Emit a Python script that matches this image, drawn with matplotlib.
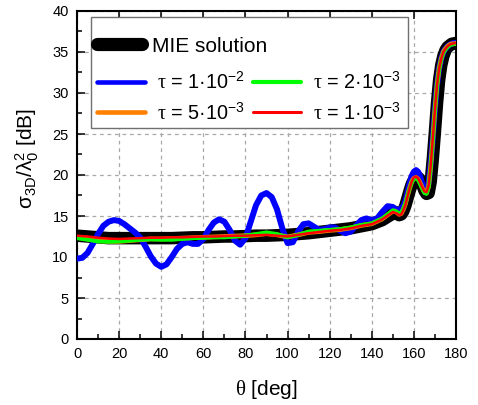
import numpy as np
import matplotlib
matplotlib.use("Agg")
import matplotlib.pyplot as plt
from matplotlib.lines import Line2D
from matplotlib.patches import Rectangle

plt.rcParams['font.family'] = ['Liberation Sans', 'DejaVu Sans']
plt.rcParams['mathtext.fontset'] = 'custom'
plt.rcParams['mathtext.rm'] = 'Liberation Serif'
plt.rcParams['mathtext.it'] = 'Liberation Sans:italic'
plt.rcParams['mathtext.default'] = 'regular'

# ---- data: bistatic RCS vs. observation angle -----------------------------
theta_blue = np.concatenate([np.arange(0, 155.1, 2.5), np.arange(156, 180.1, 1)])
rcs_tau_1e2 = [
    9.8, 9.9, 10.5, 11.6, 12.8, 13.8, 14.3, 14.5, 14.4, 14.0,
    13.5, 13.0, 12.4, 11.3, 10.1, 9.2, 8.8, 9.1, 10.0, 11.0,
    11.6, 11.8, 11.6, 11.6, 12.2, 13.3, 14.2, 14.6, 14.3, 13.3,
    12.0, 11.5, 12.3, 14.3, 16.3, 17.5, 17.8, 17.3, 15.8, 13.5,
    11.7, 11.8, 13.1, 14.0, 14.1, 13.7, 13.3, 13.4, 13.6, 13.6,
    13.2, 12.9, 13.1, 13.8, 14.5, 14.7, 14.5, 14.7, 15.5, 16.2,
    16.1, 15.6, 16.2,
    16.9, 17.9, 19.0, 19.9, 20.4, 20.6, 20.4, 19.8, 18.9, 18.2,
    18.1, 19.0, 21.5, 24.5, 28.0, 31.0, 33.0, 34.2, 35.0, 35.4,
    35.7, 35.9, 36.0, 36.1, 36.1,
]

theta = np.concatenate([np.arange(0, 150.1, 5), np.arange(151, 180.1, 1)])
rcs_mie = [
    12.6, 12.5, 12.4, 12.3, 12.3, 12.3, 12.3, 12.3, 12.3, 12.3,
    12.35, 12.4, 12.4, 12.45, 12.5, 12.5, 12.55, 12.6, 12.6, 12.65,
    12.7, 12.8, 12.9, 13.05, 13.2, 13.35, 13.5, 13.75, 14.0, 14.5,
    15.3,
    15.5, 15.3, 15.1, 15.2, 15.6, 16.3, 17.2, 18.1, 18.9, 19.4,
    19.6, 19.7, 19.4, 18.8, 18.1, 17.7, 17.8, 19.2, 22.0, 25.3,
    28.8, 31.6, 33.4, 34.5, 35.2, 35.6, 35.8, 36.0, 36.05, 36.1,
]
rcs_tau_5e3 = [
    12.4, 12.2, 12.0, 11.9, 11.9, 12.0, 12.1, 12.2, 12.2, 12.25,
    12.3, 12.35, 12.4, 12.45, 12.5, 12.55, 12.6, 12.7, 12.85, 12.7,
    12.45, 12.7, 13.0, 13.1, 13.25, 13.35, 13.55, 13.85, 14.05, 14.65,
    15.6,
    15.6, 15.4, 15.2, 15.3, 15.8, 16.5, 17.5, 18.4, 19.2, 19.6,
    19.7, 19.5, 19.0, 18.4, 17.9, 17.8, 18.6, 21.1, 24.4, 28.0,
    31.0, 33.0, 34.2, 35.0, 35.4, 35.7, 35.9, 36.0, 36.0, 36.05,
]
rcs_tau_2e3 = [
    12.3, 12.1, 11.9, 11.85, 11.9, 12.0, 12.1, 12.15, 12.1, 12.1,
    12.2, 12.3, 12.35, 12.4, 12.4, 12.5, 12.6, 12.8, 13.0, 12.8,
    12.4, 12.7, 13.1, 13.2, 13.3, 13.4, 13.6, 13.9, 14.1, 14.7,
    15.7,
    15.6, 15.5, 15.3, 15.4, 15.9, 16.6, 17.5, 18.4, 19.1, 19.5,
    19.6, 19.4, 18.9, 18.3, 17.8, 17.7, 18.5, 21.0, 24.3, 27.9,
    30.9, 32.9, 34.1, 34.9, 35.3, 35.6, 35.8, 35.9, 36.0, 36.0,
]
rcs_tau_1e3 = [
    12.6, 12.5, 12.35, 12.25, 12.2, 12.25, 12.3, 12.35, 12.35, 12.4,
    12.4, 12.45, 12.5, 12.5, 12.55, 12.6, 12.6, 12.65, 12.7, 12.6,
    12.5, 12.7, 12.9, 13.05, 13.2, 13.3, 13.5, 13.8, 14.0, 14.6,
    15.5,
    15.4, 15.3, 15.1, 15.2, 15.7, 16.4, 17.4, 18.4, 19.2, 19.7,
    19.8, 19.6, 19.1, 18.5, 18.0, 17.9, 18.7, 21.2, 24.5, 28.0,
    31.0, 33.0, 34.2, 35.0, 35.4, 35.7, 35.9, 36.0, 36.05, 36.1,
]

series_labels = ['MIE solution',
                 r'$\mathrm{\tau}$ = 1·$10^{-2}$',
                 r'$\mathrm{\tau}$ = 5·$10^{-3}$',
                 r'$\mathrm{\tau}$ = 2·$10^{-3}$',
                 r'$\mathrm{\tau}$ = 1·$10^{-3}$']
x_ticks = [0, 20, 40, 60, 80, 100, 120, 140, 160, 180]
y_ticks = [0, 5, 10, 15, 20, 25, 30, 35, 40]

# ---- figure ---------------------------------------------------------------
fig = plt.figure(figsize=(4.78, 4.05), dpi=100)
ax = fig.add_axes([77 / 478, 66 / 405, 379 / 478, 328 / 405])

colors = ['black', '#0000ff', '#ff8000', '#00ff00', '#ff0000']
plot_widths = [9.0, 4.3, 3.4, 2.8, 1.8]
legend_widths = [9.5, 3.3, 3.3, 3.0, 2.2]
xs = [theta, theta_blue, theta, theta, theta]
ys = [rcs_mie, rcs_tau_1e2, rcs_tau_5e3, rcs_tau_2e3, rcs_tau_1e3]
for x, y, c, w in zip(xs, ys, colors, plot_widths):
    ax.plot(x, y, color=c, lw=w, solid_capstyle='round', solid_joinstyle='round', zorder=3)

ax.set_xlim(0, 180)
ax.set_ylim(0, 40)
ax.set_xticks(x_ticks)
ax.set_yticks(y_ticks)
ax.set_xticks(np.arange(10, 180, 20), minor=True)
ax.set_yticks(np.arange(2.5, 40, 5), minor=True)

ax.grid(True, which='major', color='#a8a8a8', linestyle=(0, (3, 3)), linewidth=0.9, zorder=1)
ax.set_axisbelow(True)

ax.tick_params(axis='both', which='major', direction='in', length=5.5, width=1.1,
               labelsize=10.5, pad=6, right=False, top=False)
ax.tick_params(axis='both', which='minor', direction='in', length=3.5, width=1.1,
               right=False, top=False)
ax.tick_params(axis='x', which='major', top=True, labeltop=False)
for s in ax.spines.values():
    s.set_linewidth(1.5)

ax.set_xlabel(r'$\mathrm{\theta}$ [deg]', fontsize=15)
ax.set_ylabel(r'$\sigma_{3D}/\lambda_0^2$ [dB]', fontsize=15)
ax.xaxis.set_label_coords(0.5, -0.118)
ax.yaxis.set_label_coords(-0.095, 0.55)

# ---- legend: framed box, one full-width row then two columns --------------
frame = Rectangle((14 / 379, 211 / 328), 317 / 379, 111 / 328, transform=ax.transAxes,
                  facecolor='white', edgecolor='#707070', linewidth=1.0, zorder=4)
ax.add_patch(frame)

handles = [Line2D([], [], color=c, lw=w, solid_capstyle='round')
           for c, w in zip(colors, legend_widths)]
leg1 = ax.legend([handles[0]], [series_labels[0]], loc='center left',
                 bbox_to_anchor=(0.054, 0.893), frameon=False, fontsize=15,
                 handlelength=2.15, handletextpad=0.45, borderpad=0, borderaxespad=0)
leg1.set_zorder(5)
ax.add_artist(leg1)
leg2 = ax.legend(handles[1:], series_labels[1:], ncol=2, loc='center left',
                 bbox_to_anchor=(0.053, 0.737), frameon=False, fontsize=14.3,
                 handlelength=2.4, handletextpad=0.6, columnspacing=0.45,
                 labelspacing=0.42, borderpad=0, borderaxespad=0)
leg2.set_zorder(5)

fig.savefig('out.png', dpi=100)
